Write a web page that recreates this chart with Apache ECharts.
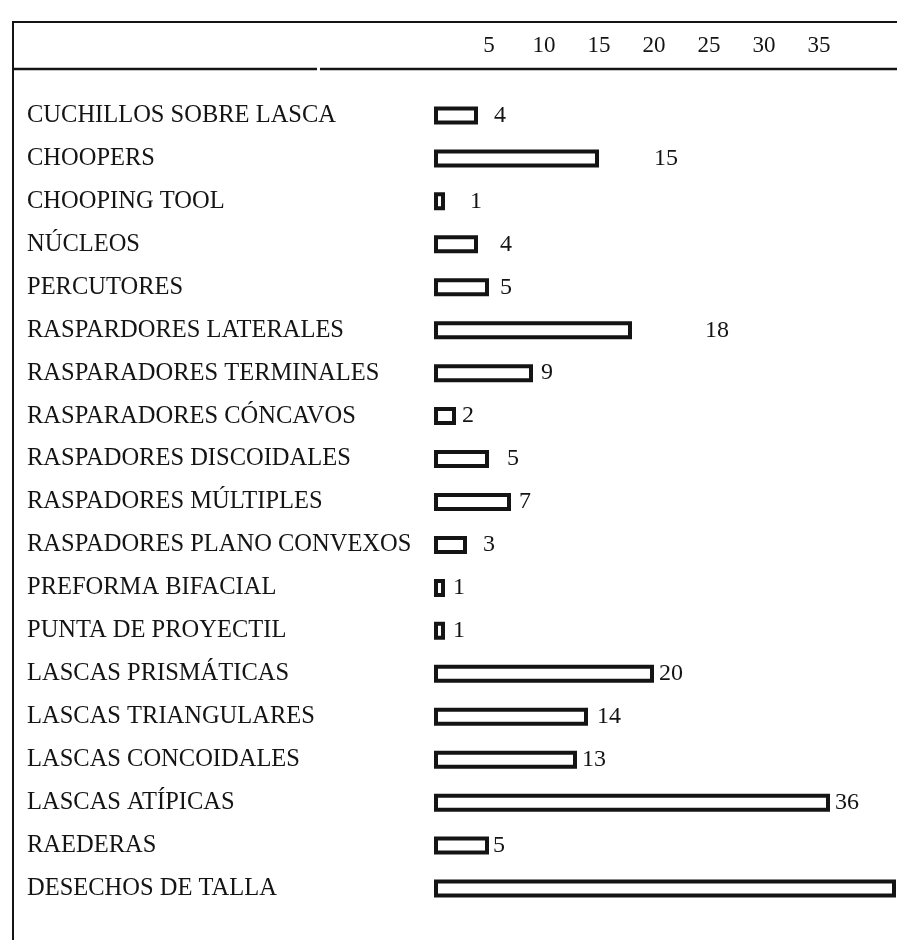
<!DOCTYPE html>
<html>
<head>
<meta charset="utf-8">
<script src="https://cdn.jsdelivr.net/npm/echarts@6/dist/echarts.min.js"></script>
<style>
  html, body { margin: 0; padding: 0; background: #fff; }
  #chart { width: 897px; height: 940px; }
</style>
</head>
<body>
<div id="chart"></div>
<script>
// categories, top to bottom
const categories = [
  'CUCHILLOS SOBRE LASCA',
  'CHOOPERS',
  'CHOOPING TOOL',
  'NÚCLEOS',
  'PERCUTORES',
  'RASPARDORES LATERALES',
  'RASPARADORES TERMINALES',
  'RASPARADORES CÓNCAVOS',
  'RASPADORES DISCOIDALES',
  'RASPADORES MÚLTIPLES',
  'RASPADORES PLANO CONVEXOS',
  'PREFORMA BIFACIAL',
  'PUNTA DE PROYECTIL',
  'LASCAS PRISMÁTICAS',
  'LASCAS TRIANGULARES',
  'LASCAS CONCOIDALES',
  'LASCAS ATÍPICAS',
  'RAEDERAS',
  'DESECHOS DE TALLA'
]

// counts (the last bar runs off the page, no printed value)
const counts = [4, 15, 1, 4, 5, 18, 9, 2, 5, 7, 3, 1, 1, 20, 14, 13, 36, 5, 42]

// top axis labels
const tickLabels = [5, 10, 15, 20, 25, 30, 35]

// gap between bar end and its number, as printed
const labelGap = [16, 55, 25, 22, 11, 73, 8, 6, 18, 8, 16, 8, 8, 5, 9, 5, 5, 4, 0]

const FONT = '"Liberation Serif", "DejaVu Serif", serif'
const INK = '#141414'

const chart = echarts.init(document.getElementById('chart'))

const barData = counts.map((v, i) => ({
  value: v,
  label: {
    show: i < counts.length - 1,
    distance: labelGap[i]
  }
}))

chart.setOption({
  backgroundColor: '#fff',
  animation: false,
  grid: {
    left: 434,
    right: 1,
    top: 94,
    bottom: 30
  },
  xAxis: {
    type: 'value',
    position: 'top',
    min: 0,
    max: 42,
    interval: 5,
    axisLine: { show: false },
    axisTick: { show: false },
    splitLine: { show: false },
    axisLabel: {
      margin: 37,
      fontFamily: FONT,
      fontSize: 23,
      color: INK,
      showMaxLabel: false,
      formatter: v => (tickLabels.includes(v) ? String(v) : '')
    }
  },
  yAxis: {
    type: 'category',
    inverse: true,
    data: categories,
    axisLine: { show: false },
    axisTick: { show: false },
    splitLine: { show: false },
    axisLabel: {
      align: 'left',
      margin: 407,
      fontFamily: FONT,
      fontSize: 24.5,
      color: INK,
      padding: [0, 0, 5, 0]
    }
  },
  series: [{
    type: 'bar',
    data: barData,
    barWidth: 18,
    clip: true,
    itemStyle: {
      color: '#fff',
      borderColor: INK,
      borderWidth: 4
    },
    label: {
      position: 'right',
      fontFamily: FONT,
      fontSize: 24,
      color: INK
    }
  }],
  graphic: [
    // frame: top rule, left rule, rule under the header
    { type: 'line', shape: { x1: 12, y1: 22, x2: 897, y2: 22 }, style: { stroke: INK, lineWidth: 2 } },
    { type: 'line', shape: { x1: 13, y1: 21, x2: 13, y2: 940 }, style: { stroke: INK, lineWidth: 2 } },
    { type: 'line', shape: { x1: 12, y1: 69, x2: 317, y2: 69 }, style: { stroke: INK, lineWidth: 2.5 } },
    { type: 'line', shape: { x1: 320, y1: 69, x2: 897, y2: 69 }, style: { stroke: INK, lineWidth: 2.5 } }
  ]
})
</script>
</body>
</html>
